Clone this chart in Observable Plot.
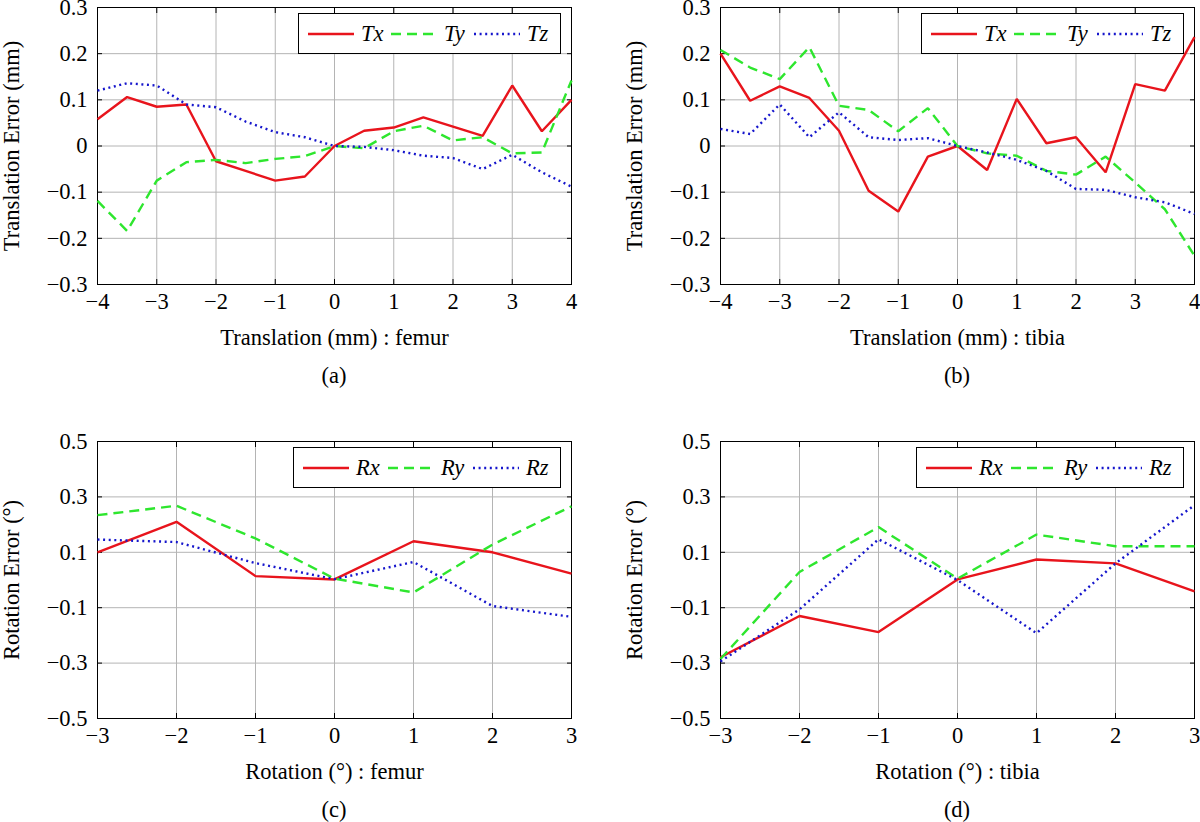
<!DOCTYPE html>
<html><head><meta charset="utf-8">
<script src="https://cdn.jsdelivr.net/npm/d3@7"></script>
<script src="https://cdn.jsdelivr.net/npm/@observablehq/plot@0.6"></script>
<style>
body{margin:0;background:#fff;}
#root{position:relative;width:1200px;height:822px;overflow:hidden;font-family:"Liberation Serif","Times New Roman",serif;background:#fff;}
.panel{position:absolute;}
.panel svg{overflow:visible;}
.caption{position:absolute;font-size:22.5px;text-align:center;line-height:22.5px;}
.legend{position:absolute;border:1px solid #000;background:#fff;display:flex;align-items:center;box-sizing:border-box;font-style:italic;font-size:22.5px;padding-left:9px;}
.legend .entry{display:flex;align-items:center;}
.legend svg{display:block;margin-right:7px;}
</style></head><body><div id="root"></div><script>
// ---- data ----
const transX = [-4,-3.5,-3,-2.5,-2,-1.5,-1,-0.5,0,0.5,1,1.5,2,2.5,3,3.5,4];
const femurTx = [0.058,0.106,0.085,0.090,-0.033,-0.054,-0.075,-0.066,0,0.033,0.040,0.062,0.042,0.022,0.131,0.032,0.100];
const femurTy = [-0.119,-0.184,-0.075,-0.035,-0.030,-0.037,-0.028,-0.022,0,-0.005,0.032,0.044,0.012,0.019,-0.016,-0.014,0.142];
const femurTz = [0.120,0.136,0.131,0.090,0.084,0.053,0.030,0.019,0,-0.002,-0.009,-0.021,-0.026,-0.050,-0.019,-0.057,-0.088];
const tibiaTx = [0.200,0.098,0.129,0.104,0.033,-0.097,-0.142,-0.023,0,-0.052,0.102,0.006,0.019,-0.057,0.134,0.120,0.236];
const tibiaTy = [0.208,0.170,0.145,0.214,0.087,0.078,0.032,0.082,0,-0.016,-0.021,-0.054,-0.062,-0.023,-0.079,-0.137,-0.238];
const tibiaTz = [0.037,0.026,0.090,0.019,0.073,0.019,0.013,0.017,0,-0.014,-0.030,-0.054,-0.093,-0.095,-0.111,-0.122,-0.147];
const rotX = [-3,-2,-1,0,1,2,3];
const femurRx = [0.100,0.210,0.014,0.002,0.140,0.100,0.023];
const femurRy = [0.234,0.268,0.150,0.005,-0.045,0.128,0.266];
const femurRz = [0.146,0.137,0.061,0.003,0.065,-0.094,-0.133];
const tibiaRx = [-0.279,-0.130,-0.188,0.002,0.074,0.060,-0.041];
const tibiaRy = [-0.285,0.029,0.191,0.005,0.164,0.122,0.122];
const tibiaRz = [-0.294,-0.106,0.147,0.000,-0.192,0.060,0.270];
const transXTicks = [-4,-3,-2,-1,0,1,2,3,4];
const transYTicks = [-0.3,-0.2,-0.1,0,0.1,0.2,0.3];
const rotXTicks = [-3,-2,-1,0,1,2,3];
const rotYTicks = [-0.5,-0.3,-0.1,0.1,0.3,0.5];
const transNames = ["Tx","Ty","Tz"];
const rotNames = ["Rx","Ry","Rz"];

// ---- styles ----
const colors = ["#e8141c","#2ee62e","#1616cc"];
const dashes = [null,"10,6","2,3.6"];
const SW = 2.4;
const FS = 22.5;
const yFmt = v => v === 0 ? "0" : d3.format(".1f")(v);

const root = document.getElementById("root");

function panel(o){
  const W = 577, H = 370, mL = 97, mR = 6, mT = 7, fB = 284, mB = H - fB;
  const rows = [];
  o.series.forEach((vals,i)=>vals.forEach((v,j)=>rows.push({x:o.x[j], y:v, s:o.names[i]})));
  const marks = [
    Plot.gridX(o.xTicks,{stroke:"#b4b4b4",strokeOpacity:1,strokeWidth:1}),
    Plot.gridY(o.yTicks,{stroke:"#b4b4b4",strokeOpacity:1,strokeWidth:1}),
    Plot.frame({stroke:"#000",strokeWidth:1}),
    Plot.axisX(o.xTicks,{anchor:"bottom",tickSize:-5,tickFormat:()=>"",label:null}),
    Plot.axisX(o.xTicks,{anchor:"top",tickSize:-5,tickFormat:()=>"",label:null}),
    Plot.axisY(o.yTicks,{anchor:"left",tickSize:-5,tickFormat:()=>"",label:null}),
    Plot.axisY(o.yTicks,{anchor:"right",tickSize:-5,tickFormat:()=>"",label:null}),
    ...o.names.map((n,i)=>Plot.line(rows.filter(d=>d.s===n),{x:"x",y:"y",stroke:colors[i],strokeWidth:SW,strokeDasharray:dashes[i],strokeLinecap:"butt",strokeLinejoin:"miter"})),
    Plot.axisX(o.xTicks,{anchor:"bottom",tickSize:0,tickPadding:8.5,label:o.xLabel,labelAnchor:"center",labelOffset:60,labelArrow:"none",fill:"#000"}),
    Plot.axisY(o.yTicks,{anchor:"left",tickSize:0,tickPadding:10,tickFormat:yFmt,label:o.yLabel,labelAnchor:"center",labelArrow:"none",fill:"#000"})
  ];
  const chart = Plot.plot({
    width:W, height:H, marginLeft:mL, marginRight:mR, marginTop:mT, marginBottom:mB,
    style:{fontFamily:'"Liberation Serif","Times New Roman",serif',fontSize:FS+"px",color:"#000",background:"transparent",overflow:"visible"},
    x:{domain:o.xDomain},
    y:{domain:o.yDomain},
    marks
  });
  const div = document.createElement("div");
  div.className = "panel";
  div.style.left = o.left+"px"; div.style.top = o.top+"px";
  div.style.width = W+"px"; div.style.height = H+"px";
  div.appendChild(chart);
  const lg = document.createElement("div");
  lg.className = "legend";
  lg.style.width = o.legendWidth+"px"; lg.style.height = "41px";
  lg.style.left = (W - mR - 10 - o.legendWidth)+"px"; lg.style.top = (mT+6)+"px";
  o.names.forEach((n,i)=>{
    const e = document.createElement("div");
    e.className = "entry";
    if (i < 2) e.style.width = o.entryWidth+"px";
    const dash = dashes[i] ? ` stroke-dasharray="${dashes[i]}"` : "";
    e.innerHTML = `<svg width="46" height="10"><line x1="0" y1="5" x2="46" y2="5" stroke="${colors[i]}" stroke-width="${SW}"${dash}/></svg><span>${n}</span>`;
    lg.appendChild(e);
  });
  div.appendChild(lg);
  const cap = document.createElement("div");
  cap.className = "caption";
  cap.textContent = o.caption;
  cap.style.left = mL+"px"; cap.style.width = (W-mL-mR)+"px";
  cap.style.top = (fB+81)+"px";
  div.appendChild(cap);
  root.appendChild(div);
}

panel({x:transX, series:[femurTx,femurTy,femurTz], names:transNames, xTicks:transXTicks, yTicks:transYTicks,
  xDomain:[-4,4], yDomain:[-0.3,0.3], xLabel:"Translation (mm) : femur", yLabel:"Translation Error (mm)",
  caption:"(a)", left:0, top:0, legendWidth:263, entryWidth:83});
panel({x:transX, series:[tibiaTx,tibiaTy,tibiaTz], names:transNames, xTicks:transXTicks, yTicks:transYTicks,
  xDomain:[-4,4], yDomain:[-0.3,0.3], xLabel:"Translation (mm) : tibia", yLabel:"Translation Error (mm)",
  caption:"(b)", left:623, top:0, legendWidth:263, entryWidth:83});
panel({x:rotX, series:[femurRx,femurRy,femurRz], names:rotNames, xTicks:rotXTicks, yTicks:rotYTicks,
  xDomain:[-3,3], yDomain:[-0.5,0.5], xLabel:"Rotation (°) : femur", yLabel:"Rotation Error (°)",
  caption:"(c)", left:0, top:434, legendWidth:268, entryWidth:85});
panel({x:rotX, series:[tibiaRx,tibiaRy,tibiaRz], names:rotNames, xTicks:rotXTicks, yTicks:rotYTicks,
  xDomain:[-3,3], yDomain:[-0.5,0.5], xLabel:"Rotation (°) : tibia", yLabel:"Rotation Error (°)",
  caption:"(d)", left:623, top:434, legendWidth:268, entryWidth:85});
</script></body></html>
